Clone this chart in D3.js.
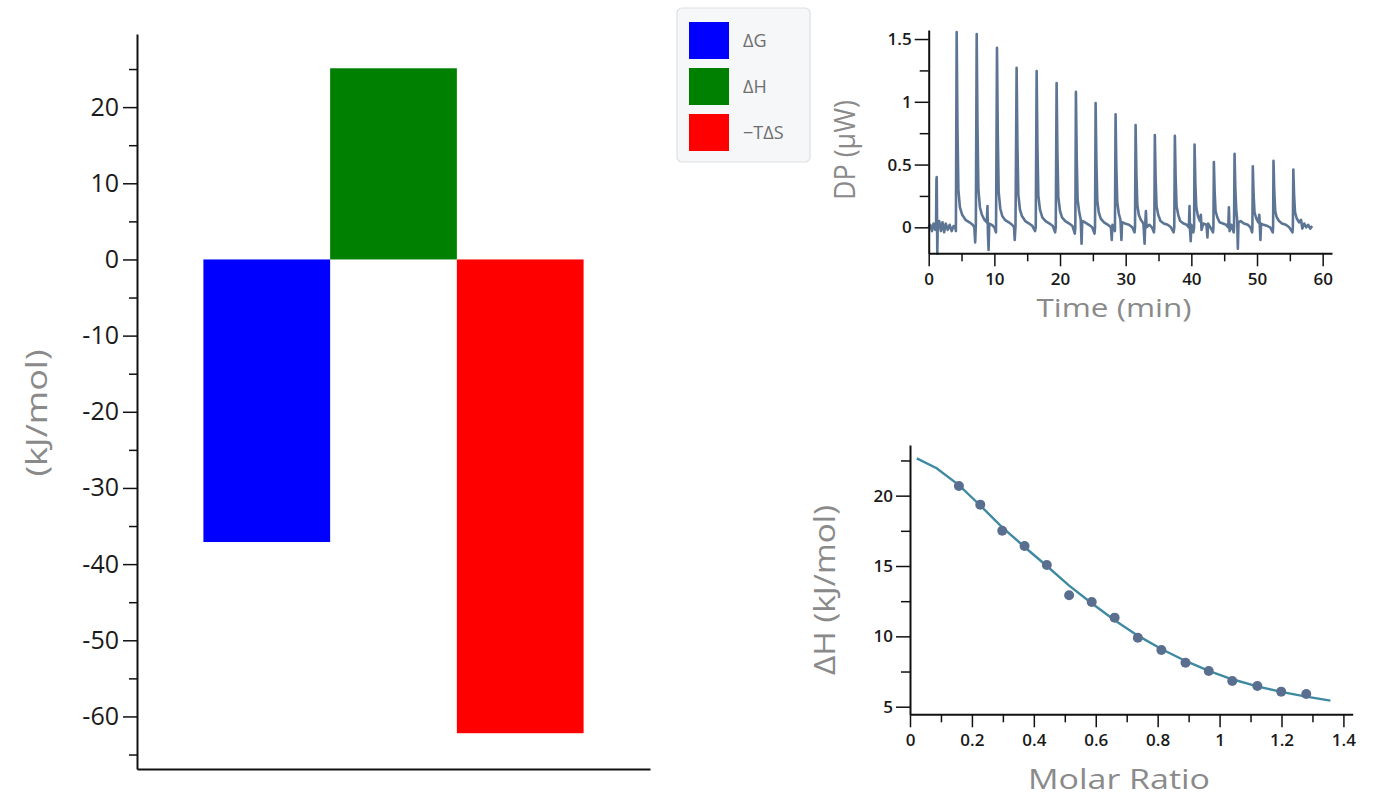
<!DOCTYPE html>
<html>
<head>
<meta charset="utf-8">
<script src="https://cdn.jsdelivr.net/npm/d3@7"></script>
<style>
  html, body { margin: 0; padding: 0; background: #fff; }
  svg { display: block; font-family: "Open Sans", "Noto Sans", sans-serif; }
  svg text { font-family: "Open Sans", "Noto Sans", sans-serif; }
  .axis path, .axis line { stroke: #111; }
  .axis path { stroke-width: 2; }
  .axis line { stroke-width: 1.5; }
  .axis text { fill: #1a1a1a; }
  .title { fill: #8a8a8a; }
</style>
</head>
<body>
<svg id="chart" width="1374" height="796"></svg>
<script>
// thermodynamic signature
const terms = ['ΔG', 'ΔH', '−TΔS'];
const termValues = [-37.1, 25.1, -62.2];
const termColors = ['#0000ff', '#008000', '#ff0000'];
const sigMajor = [-60, -50, -40, -30, -20, -10, 0, 10, 20];
const sigMinor = [-65, -55, -45, -35, -25, -15, -5, 5, 15, 25];

// raw thermogram, [time (min), DP (µW)]
const dpTrace = [
  [0.0,0.0],[0.25,0.02],[0.5,-0.03],[0.75,0.03],[1.0,-0.02],[1.12,0.0],[1.18,0.38],[1.22,0.40],[1.27,0.08],[1.31,-0.21],[1.38,0.02],[1.6,0.05],[1.85,-0.03],[2.1,0.04],[2.35,-0.04],[2.6,0.03],[2.9,-0.02],[3.2,0.02],[3.5,-0.03],[3.8,0.01],[4.05,0.0],[4.14,-0.03],
  [4.26,1.555],[4.38,0.80],[4.52,0.30],[4.75,0.16],[5.1,0.10],[5.6,0.06],[6.2,0.04],[6.7,0.02],[6.95,0.0],[7.08,-0.12],[7.18,0.02],
  [7.31,1.54],[7.43,0.80],[7.57,0.30],[7.8,0.16],[8.1,0.10],[8.5,0.06],[8.85,0.04],[8.95,0.17],[9.02,-0.05],[9.12,-0.18],[9.22,0.03],[9.6,0.02],[10.0,0.0],[10.25,-0.04],
  [10.40,1.43],[10.52,0.74],[10.66,0.28],[10.9,0.15],[11.2,0.09],[11.6,0.06],[12.2,0.04],[12.7,0.02],[13.0,0.0],[13.1,-0.10],[13.22,0.01],
  [13.39,1.27],[13.51,0.66],[13.65,0.26],[13.9,0.14],[14.2,0.09],[14.7,0.05],[15.3,0.03],[15.8,0.01],[16.2,-0.03],[16.3,0.0],
  [16.44,1.245],[16.56,0.65],[16.7,0.25],[16.95,0.14],[17.3,0.08],[17.8,0.05],[18.4,0.03],[18.9,0.01],[19.25,-0.04],[19.35,0.0],
  [19.48,1.15],[19.6,0.60],[19.74,0.24],[20.0,0.13],[20.3,0.08],[20.8,0.05],[21.4,0.03],[21.9,0.01],[22.25,-0.05],[22.33,0.0],
  [22.42,1.08],[22.54,0.56],[22.68,0.22],[22.9,0.13],[23.15,0.06],[23.28,-0.13],[23.38,0.05],[23.8,0.04],[24.4,0.02],[24.9,0.0],[25.25,-0.05],[25.33,0.0],
  [25.42,0.99],[25.54,0.52],[25.68,0.21],[25.9,0.12],[26.2,0.07],[26.7,0.04],[27.3,0.02],[27.75,0.0],[27.88,-0.10],[27.98,0.02],[28.2,0.0],[28.36,-0.03],
  [28.46,0.90],[28.58,0.47],[28.72,0.20],[28.95,0.11],[29.2,0.06],[29.35,-0.10],[29.45,0.04],[29.9,0.03],[30.5,0.02],[31.0,0.0],[31.35,-0.04],[31.42,0.0],
  [31.51,0.815],[31.63,0.43],[31.77,0.18],[32.0,0.10],[32.3,0.06],[32.7,0.03],[32.88,-0.13],[32.98,0.03],[33.08,0.13],[33.18,0.0],[33.6,0.02],[34.0,0.0],[34.3,-0.04],[34.36,0.0],
  [34.44,0.735],[34.56,0.39],[34.7,0.17],[34.95,0.10],[35.3,0.05],[35.8,0.03],[36.4,0.02],[36.9,0.0],[37.3,-0.04],[37.4,0.0],
  [37.49,0.73],[37.61,0.39],[37.75,0.17],[38.0,0.10],[38.3,0.05],[38.8,0.03],[39.3,0.02],[39.62,0.0],[39.72,0.17],[39.8,-0.02],[39.9,-0.11],[40.0,0.02],[40.3,-0.04],[40.42,0.0],
  [40.49,0.66],[40.61,0.35],[40.75,0.16],[41.0,0.09],[41.3,0.05],[41.45,0.10],[41.55,-0.02],[41.8,0.03],[42.3,0.02],[42.45,-0.08],[42.55,0.03],[42.9,0.0],[43.3,-0.04],[43.36,0.0],
  [43.43,0.52],[43.55,0.28],[43.69,0.13],[43.95,0.08],[44.3,0.04],[44.8,0.03],[45.3,0.02],[45.62,0.0],[45.72,0.16],[45.82,-0.03],[46.1,0.02],[46.45,-0.04],[46.5,0.0],
  [46.58,0.585],[46.7,0.31],[46.84,0.14],[46.98,0.06],[47.08,-0.17],[47.18,0.04],[47.5,0.05],[48.0,0.03],[48.6,0.02],[49.0,0.0],[49.25,-0.04],[49.3,0.0],
  [49.36,0.487],[49.48,0.26],[49.62,0.12],[49.9,0.07],[50.2,0.04],[50.35,0.10],[50.45,-0.02],[50.52,-0.10],[50.62,0.03],[51.0,0.02],[51.6,0.01],[52.0,0.0],[52.4,-0.04],[52.45,0.0],
  [52.51,0.53],[52.63,0.28],[52.77,0.13],[53.0,0.08],[53.35,0.05],[53.8,0.03],[54.4,0.02],[54.9,0.0],[55.4,-0.04],[55.46,0.0],
  [55.53,0.46],[55.65,0.25],[55.79,0.12],[56.05,0.07],[56.4,0.04],[56.7,0.06],[56.9,-0.01],[57.2,0.03],[57.5,0.0],[57.8,0.02],[58.1,-0.01],[58.4,0.01]
];
const timeMajor = [0, 10, 20, 30, 40, 50, 60];
const timeMinor = [5, 15, 25, 35, 45, 55];
const dpMajor = [0, 0.5, 1, 1.5];
const dpMinor = [0.25, 0.75, 1.25];

// integrated heats and fit
const molarRatio = [0.158, 0.227, 0.298, 0.370, 0.442, 0.514, 0.587, 0.661, 0.736, 0.812, 0.890, 0.965, 1.041, 1.122, 1.199, 1.280];
const heat = [20.69, 19.36, 17.51, 16.42, 15.07, 12.92, 12.44, 11.33, 9.90, 9.03, 8.13, 7.54, 6.83, 6.47, 6.07, 5.90];
const fitRatio = [0.022, 0.086, 0.158, 0.227, 0.298, 0.370, 0.442, 0.514, 0.587, 0.661, 0.736, 0.812, 0.890, 0.965, 1.041, 1.122, 1.199, 1.280, 1.358];
const fitHeat = [22.65, 21.95, 20.75, 19.30, 17.75, 16.35, 15.00, 13.60, 12.35, 11.15, 10.05, 9.10, 8.25, 7.55, 6.95, 6.45, 6.05, 5.72, 5.43];
const ratioMajor = [0, 0.2, 0.4, 0.6, 0.8, 1, 1.2, 1.4];
const ratioMinor = [0.1, 0.3, 0.5, 0.7, 0.9, 1.1, 1.3];
const heatMajor = [5, 10, 15, 20];
const heatMinor = [7.5, 12.5, 17.5, 22.5];

const svg = d3.select('#chart');

function axisPair(g, axisFn, scale, major, minor, opt) {
  g.attr('class', 'axis');
  g.call(axisFn(scale).tickValues(major).tickSize(opt.major).tickSizeOuter(0)
    .tickPadding(opt.pad).tickFormat(d => String(d)));
  g.selectAll('text').style('font-size', opt.font + 'px').style('font-weight', opt.weight);
  const m = g.append('g');
  m.call(axisFn(scale).tickValues(minor).tickSize(opt.minor).tickSizeOuter(0).tickFormat(''));
  m.select('.domain').remove();
}

function title(x, y, rot, size, len, txt) {
  svg.append('text').attr('class', 'title')
    .attr('transform', `translate(${x},${y})` + (rot ? ' rotate(-90)' : ''))
    .attr('text-anchor', 'middle')
    .attr('textLength', len).attr('lengthAdjust', 'spacingAndGlyphs')
    .style('font-size', size + 'px')
    .text(txt);
}

// ---- left: signature bars
const xSig = d3.scaleBand().domain(terms).range([137, 650]).paddingInner(0).paddingOuter(0.524);
const ySig = d3.scaleLinear().domain([-66.9, 29.6]).range([769, 34]);

svg.append('g').selectAll('rect')
  .data(terms)
  .enter().append('rect')
  .attr('x', d => xSig(d))
  .attr('width', xSig.bandwidth())
  .attr('y', (d, i) => ySig(Math.max(0, termValues[i])))
  .attr('height', (d, i) => Math.abs(ySig(termValues[i]) - ySig(0)))
  .attr('fill', (d, i) => termColors[i]);

axisPair(svg.append('g').attr('transform', 'translate(137,0)'), d3.axisLeft, ySig,
  sigMajor, sigMinor, { major: 14, minor: 8, pad: 4, font: 25, weight: 400 });
svg.append('g').attr('class', 'axis').attr('transform', 'translate(0,769)')
  .call(d3.axisBottom(xSig).tickSize(0).tickSizeOuter(0).tickFormat(''));

title(47, 413, true, 30, 127, '(kJ/mol)');

// legend
const leg = svg.append('g').attr('transform', 'translate(677,8)');
leg.append('rect').attr('width', 133).attr('height', 154).attr('rx', 5)
  .attr('fill', '#f6f7f9').attr('stroke', '#dedfe2').attr('stroke-width', 1.2);
terms.forEach((t, i) => {
  const row = leg.append('g').attr('transform', `translate(12,${14 + i * 46})`);
  row.append('rect').attr('width', 40).attr('height', 37).attr('fill', termColors[i]);
  row.append('text').attr('x', 54).attr('y', 19).attr('dy', '0.35em')
    .style('font-size', '18px').attr('fill', '#6e6e6e').text(t);
});

// ---- top right: thermogram
const xT = d3.scaleLinear().domain([0, 61.42]).range([928.7, 1332]);
const yT = d3.scaleLinear().domain([-0.207, 1.572]).range([253.3, 30]);

svg.append('path')
  .datum(dpTrace)
  .attr('fill', 'none')
  .attr('stroke', '#5d7594')
  .attr('stroke-width', 2.6)
  .attr('stroke-linejoin', 'round')
  .attr('d', d3.line().x(d => xT(d[0])).y(d => yT(d[1])));

axisPair(svg.append('g').attr('transform', 'translate(928.7,0)'), d3.axisLeft, yT,
  dpMajor, dpMinor, { major: 14, minor: 9, pad: 3, font: 17, weight: 600 });
axisPair(svg.append('g').attr('transform', 'translate(0,253.3)'), d3.axisBottom, xT,
  timeMajor, timeMinor, { major: 13, minor: 8, pad: 7, font: 17, weight: 600 });

title(855, 150, true, 30, 100, 'DP (μW)');
title(1114, 317, false, 25, 155, 'Time (min)');

// ---- bottom right: isotherm
const xR = d3.scaleLinear().domain([0, 1.43]).range([910, 1352.7]);
const yR = d3.scaleLinear().domain([4.46, 23.6]).range([714.3, 445]);

svg.append('path')
  .datum(fitRatio.map((r, i) => [r, fitHeat[i]]))
  .attr('fill', 'none')
  .attr('stroke', '#3f8aa2')
  .attr('stroke-width', 2.4)
  .attr('d', d3.line().x(d => xR(d[0])).y(d => yR(d[1])));

svg.append('g').selectAll('circle')
  .data(molarRatio)
  .enter().append('circle')
  .attr('cx', d => xR(d))
  .attr('cy', (d, i) => yR(heat[i]))
  .attr('r', 5)
  .attr('fill', '#5a6f8f');

axisPair(svg.append('g').attr('transform', 'translate(910,0)'), d3.axisLeft, yR,
  heatMajor, heatMinor, { major: 14, minor: 9, pad: 3, font: 17, weight: 600 });
axisPair(svg.append('g').attr('transform', 'translate(0,714.3)'), d3.axisBottom, xR,
  ratioMajor, ratioMinor, { major: 13, minor: 8, pad: 7, font: 17, weight: 600 });

title(835, 590, true, 30, 170, 'ΔH (kJ/mol)');
title(1119, 789, false, 28, 182, 'Molar Ratio');
</script>
</body>
</html>
